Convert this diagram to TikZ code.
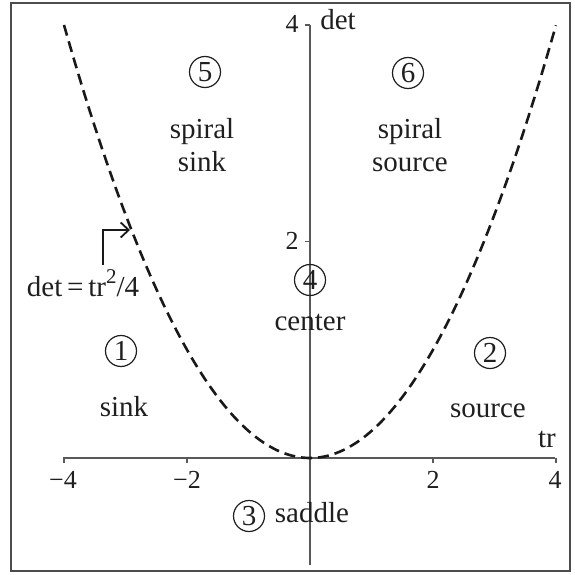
\documentclass[tikz,border=0pt]{standalone}
\usepackage{fontspec}
\setmainfont{Liberation Serif}
\usetikzlibrary{arrows.meta}
\begin{document}
\begin{tikzpicture}[x=1pt,y=-1pt,
  lbl/.style={font=\fontsize{29}{34}\selectfont, text=black!88, inner sep=0pt, anchor=base},
  ticklbl/.style={font=\fontsize{26}{30}\selectfont, text=black!88, inner sep=0pt, anchor=base},
  num/.style={circle, draw=black!88, line width=1.2pt, minimum size=31pt, inner sep=0pt,
              font=\fontsize{29}{34}\selectfont, text=black!88},
  axis/.style={draw=black!65, line width=1.6pt},
  curve/.style={draw=black!90, line width=2.6pt, dash pattern=on 11pt off 6pt},
  pointer/.style={draw=black!90, line width=1.8pt, -{Straight Barb[length=8pt,width=15pt]}},
  ]
\useasboundingbox (0,0) rectangle (574,575);
\draw[black!70, line width=2pt] (11,3) rectangle (570,571);

% axes
\coordinate (xl) at (63,458);
\coordinate (xr) at (555,458);
\coordinate (yt) at (310,25);
\coordinate (yb) at (310,565);
\draw[axis] (xl) -- (xr);
\draw[axis] (yt) -- (yb);
\foreach \t in {-4,-2,2,4}
  \draw[axis] ({310+61.5*\t},458) -- ++(0,5);
\foreach \d in {2,4}
  \draw[axis] (310,{458-108.25*\d}) -- ++(-5,0);

% tick labels
\node[ticklbl] (tm4) at (63,488) {−4};
\node[ticklbl] (tm2) at (187,488) {−2};
\node[ticklbl] (tp2) at (433,488) {2};
\node[ticklbl] (tp4) at (555,488) {4};
\node[ticklbl] (ty2) at (292,249) {2};
\node[ticklbl] (ty4) at (292,33) {4};
\node[lbl] (det) at (338,30) {det};
\node[lbl] (tr) at (547,447) {tr};

% parabola
\draw[curve] plot[domain=-4:4, samples=120, smooth] ({310+61.5*\x},{458-108.25*\x*\x/4});

% regions
\node[num] (n1) at (121,351) {1};
\node[num] (n2) at (490,353) {2};
\node[num] (n3) at (249,516) {3};
\node[num] (n4) at (310,280) {4};
\node[num] (n5) at (205,72) {5};
\node[num] (n6) at (408,73) {6};

\node[lbl] (sink) at (124,416) {sink};
\node[lbl] (source) at (488,417) {source};
\node[lbl] (saddle) at (312,522) {saddle};
\node[lbl] (center) at (310,330) {center};
\node[lbl] (sp5) at (202,139) {spiral};
\node[lbl] (sk5) at (202,171) {sink};
\node[lbl] (sp6) at (410,139) {spiral};
\node[lbl] (so6) at (410,171) {source};

% formula and pointer
\node[lbl] (formula) at (83,296) {det\,=\,tr\raisebox{0.42em}{\fontsize{21}{24}\selectfont 2}/4};
\coordinate (p0) at (103,265);
\coordinate (p1) at (130,230);
\draw[pointer] (p0) |- (p1);
\end{tikzpicture}
\end{document}
